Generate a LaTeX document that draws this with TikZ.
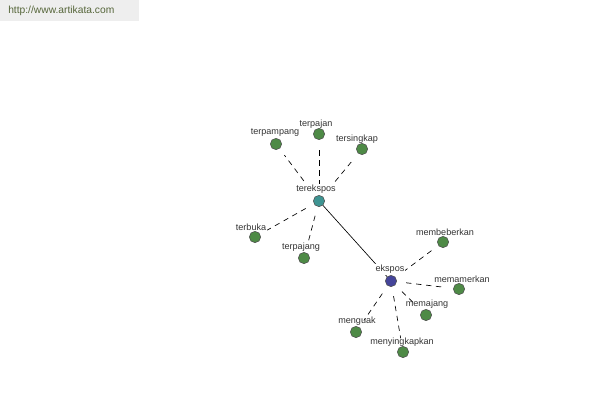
\documentclass[tikz,border=0pt]{standalone}
\usepackage{fontspec}
\setmainfont{Liberation Sans}
\begin{document}
\begin{tikzpicture}[x=0.75pt,y=-0.75pt,
  dot/.style={circle,draw=black!70,line width=0.4pt,minimum size=8.5pt,inner sep=0pt},
  leaf/.style={dot,fill=leafgreen},
  lbl/.style={font=\fontsize{6.8pt}{7pt}\selectfont,text=black!80,inner sep=0.6pt},
  hublbl/.style={lbl,fill=white},
  rel/.style={dashed,dash pattern=on 4pt off 3.5pt,line width=0.5pt,shorten <=7pt,shorten >=6pt},
  syn/.style={line width=0.5pt}]
\definecolor{leafgreen}{HTML}{4E8A46}
\definecolor{hubteal}{HTML}{3E9492}
\definecolor{hubblue}{HTML}{44449A}
\definecolor{urlgray}{HTML}{EEEEEE}
\definecolor{urltext}{HTML}{56663A}
\useasboundingbox (0,0) rectangle (600,400);
\fill[urlgray] (0,0) rectangle (139,21);
\node[anchor=west,text=urltext,font=\fontsize{7.7pt}{8pt}\selectfont,inner sep=0pt] (url) at (8,11) {http://www.artikata.com};
% nodes
\node[dot,fill=hubteal] (terekspos) at (319,201) {};
\node[dot,fill=hubblue] (ekspos) at (391,281) {};
\node[leaf] (terpampang) at (276,144) {};
\node[leaf] (terpajan) at (319,134) {};
\node[leaf] (tersingkap) at (362,149) {};
\node[leaf] (terbuka) at (255,237) {};
\node[leaf] (terpajang) at (304,258) {};
\node[leaf] (membeberkan) at (443,242) {};
\node[leaf] (memamerkan) at (459,289) {};
\node[leaf] (memajang) at (426,315) {};
\node[leaf] (menguak) at (356,332) {};
\node[leaf] (menyingkapkan) at (403,352) {};
% connectors
\draw[syn] (terekspos) -- (ekspos);
\foreach \c in {terpampang,terpajan,tersingkap,terbuka,terpajang}
  \draw[rel] (terekspos) -- (\c);
\foreach \c in {membeberkan,memamerkan,memajang,menguak,menyingkapkan}
  \draw[rel] (ekspos) -- (\c);
% labels
\node[hublbl] (l-terekspos) at (316,189.5) {terekspos};
\node[hublbl] (l-ekspos) at (390,269.5) {ekspos};
\node[lbl] (l-terpampang) at (275,133) {terpampang};
\node[lbl] (l-terpajan) at (316,124) {terpajan};
\node[lbl] (l-tersingkap) at (357,139) {tersingkap};
\node[lbl] (l-terbuka) at (251,227) {terbuka};
\node[lbl] (l-terpajang) at (301,247) {terpajang};
\node[lbl] (l-membeberkan) at (445,232) {membeberkan};
\node[lbl] (l-memamerkan) at (462,279) {memamerkan};
\node[lbl] (l-memajang) at (427,304) {memajang};
\node[lbl] (l-menguak) at (357,321) {menguak};
\node[lbl] (l-menyingkapkan) at (402,342) {menyingkapkan};
\end{tikzpicture}
\end{document}
